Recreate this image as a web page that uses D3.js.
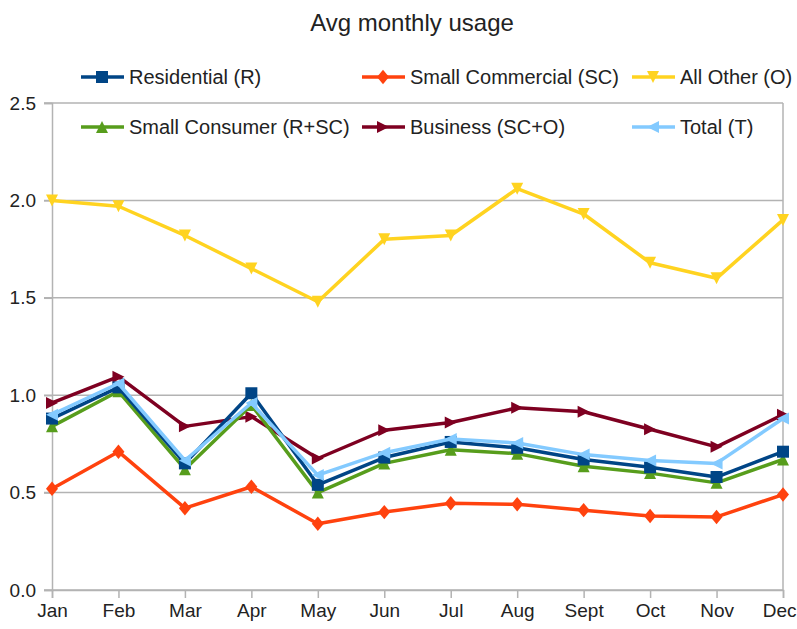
<!DOCTYPE html>
<html>
<head>
<meta charset="utf-8">
<script src="https://cdn.jsdelivr.net/npm/d3@7/dist/d3.min.js"></script>
<style>
  body { margin: 0; background: #fff; }
  text { font-family: "Liberation Sans Narrow", "Arial Narrow", "Liberation Sans", sans-serif; fill: #222; }
</style>
</head>
<body>
<div id="chart"></div>
<script>
// data
let months = ["Jan", "Feb", "Mar", "Apr", "May", "Jun", "Jul", "Aug", "Sept", "Oct", "Nov", "Dec"];
let yTicks = [0.0, 0.5, 1.0, 1.5, 2.0, 2.5];

let residential = [0.88, 1.04, 0.65, 1.01, 0.54, 0.68, 0.76, 0.73, 0.67, 0.63, 0.58, 0.71];
let smallCommercial = [0.52, 0.71, 0.42, 0.53, 0.34, 0.40, 0.445, 0.44, 0.41, 0.38, 0.375, 0.49];
let allOther = [2.0, 1.97, 1.82, 1.65, 1.48, 1.80, 1.82, 2.06, 1.93, 1.68, 1.60, 1.90];
let smallConsumer = [0.84, 1.02, 0.62, 0.95, 0.50, 0.65, 0.72, 0.70, 0.635, 0.60, 0.55, 0.67];
let business = [0.96, 1.095, 0.84, 0.89, 0.675, 0.82, 0.86, 0.935, 0.915, 0.825, 0.735, 0.90];
let total = [0.90, 1.06, 0.665, 0.96, 0.59, 0.705, 0.775, 0.755, 0.695, 0.665, 0.65, 0.88];

let series = [
    { name: "Residential (R)", values: residential, color: "#004586", symbol: "square" },
    { name: "Small Commercial (SC)", values: smallCommercial, color: "#ff420e", symbol: "diamond" },
    { name: "All Other (O)", values: allOther, color: "#ffd320", symbol: "down" },
    { name: "Small Consumer (R+SC)", values: smallConsumer, color: "#579d1c", symbol: "up" },
    { name: "Business (SC+O)", values: business, color: "#7e0021", symbol: "right" },
    { name: "Total (T)", values: total, color: "#83caff", symbol: "left" }
];

let svgwidth = 797;
let svgheight = 629;
let margin = { top: 103, right: 14, bottom: 39, left: 52 };
let width = svgwidth - margin.left - margin.right;
let height = svgheight - margin.top - margin.bottom;

let svg = d3.select("#chart")
    .append("svg")
    .attr("width", svgwidth)
    .attr("height", svgheight);

let chartgroup = svg.append("g")
    .attr("transform", `translate(${margin.left}, ${margin.top})`);

let xScale = d3.scalePoint()
    .domain(months)
    .range([0, width]);

let yScale = d3.scaleLinear()
    .domain([0, 2.5])
    .range([height, 0]);

// gridlines
chartgroup.append("g")
    .selectAll("line")
    .data(yTicks)
    .enter()
    .append("line")
    .attr("x1", -8)
    .attr("x2", width)
    .attr("y1", d => yScale(d))
    .attr("y2", d => yScale(d))
    .attr("stroke", "#b3b3b3")
    .attr("stroke-width", 1.5);

// right border
chartgroup.append("line")
    .attr("x1", width).attr("x2", width)
    .attr("y1", 0).attr("y2", height)
    .attr("stroke", "#b3b3b3")
    .attr("stroke-width", 1.5);

// y axis
let leftAxis = d3.axisLeft(yScale)
    .tickValues(yTicks)
    .tickFormat(d3.format(".1f"))
    .tickSize(8)
    .tickPadding(8);

let yAxis = chartgroup.append("g").call(leftAxis);
yAxis.select(".domain").attr("stroke", "#b3b3b3").attr("stroke-width", 1.5);
yAxis.selectAll(".tick line").attr("stroke", "#b3b3b3").attr("stroke-width", 1.5);
yAxis.selectAll("text").style("font-size", "19px").attr("fill", "#222");

// x axis
let bottomAxis = d3.axisBottom(xScale)
    .tickSize(8)
    .tickPadding(6);

let xAxis = chartgroup.append("g")
    .attr("transform", `translate(0, ${height})`)
    .call(bottomAxis);
xAxis.select(".domain").attr("stroke", "#b3b3b3").attr("stroke-width", 1.5);
xAxis.selectAll(".tick line").attr("stroke", "#b3b3b3").attr("stroke-width", 1.5);
xAxis.selectAll("text").style("font-size", "19px").attr("fill", "#222");
// keep the last label inside the page
xAxis.selectAll(".tick text")
    .filter(d => d === "Dec")
    .attr("text-anchor", "end")
    .attr("x", 13);

// marker shapes
function markerPath(symbol, s) {
    if (symbol === "square") return `M${-s},${-s}H${s}V${s}H${-s}Z`;
    if (symbol === "diamond") return `M0,${-s * 1.2}L${s},0L0,${s * 1.2}L${-s},0Z`;
    if (symbol === "down") return `M${-s},${-s}H${s}L0,${s}Z`;
    if (symbol === "up") return `M${-s},${s}H${s}L0,${-s}Z`;
    if (symbol === "right") return `M${-s},${-s}V${s}L${s},0Z`;
    return `M${s},${-s}V${s}L${-s},0Z`;
}

let line = d3.line()
    .x((d, i) => xScale(months[i]))
    .y(d => yScale(d));

let drawOrder = [2, 4, 1, 3, 0, 5];
drawOrder.forEach(function(k) {
    let s = series[k];
    let g = chartgroup.append("g");
    g.append("path")
        .datum(s.values)
        .attr("d", line)
        .attr("fill", "none")
        .attr("stroke", s.color)
        .attr("stroke-width", 3.5)
        .attr("stroke-linejoin", "round");
    g.selectAll("path.mk")
        .data(s.values)
        .enter()
        .append("path")
        .attr("class", "mk")
        .attr("transform", (d, i) => `translate(${xScale(months[i])}, ${yScale(d)})`)
        .attr("d", markerPath(s.symbol, 6))
        .attr("fill", s.color);
});

// title
svg.append("text")
    .attr("x", 412)
    .attr("y", 31)
    .attr("text-anchor", "middle")
    .style("font-size", "24px")
    .attr("fill", "#333")
    .text("Avg monthly usage");

// legend
let legendX = [81, 362, 632];
let legendY = [77, 127];
series.forEach(function(s, i) {
    let lx = legendX[i % 3];
    let ly = legendY[Math.floor(i / 3)];
    let g = svg.append("g").attr("transform", `translate(${lx}, ${ly})`);
    g.append("line")
        .attr("x1", 0).attr("x2", 43)
        .attr("y1", 0).attr("y2", 0)
        .attr("stroke", s.color)
        .attr("stroke-width", 3.5);
    g.append("path")
        .attr("transform", "translate(21, 0)")
        .attr("d", markerPath(s.symbol, 6))
        .attr("fill", s.color);
    g.append("text")
        .attr("x", 48)
        .attr("y", 7)
        .style("font-size", "20px")
        .text(s.name);
});
</script>
</body>
</html>
